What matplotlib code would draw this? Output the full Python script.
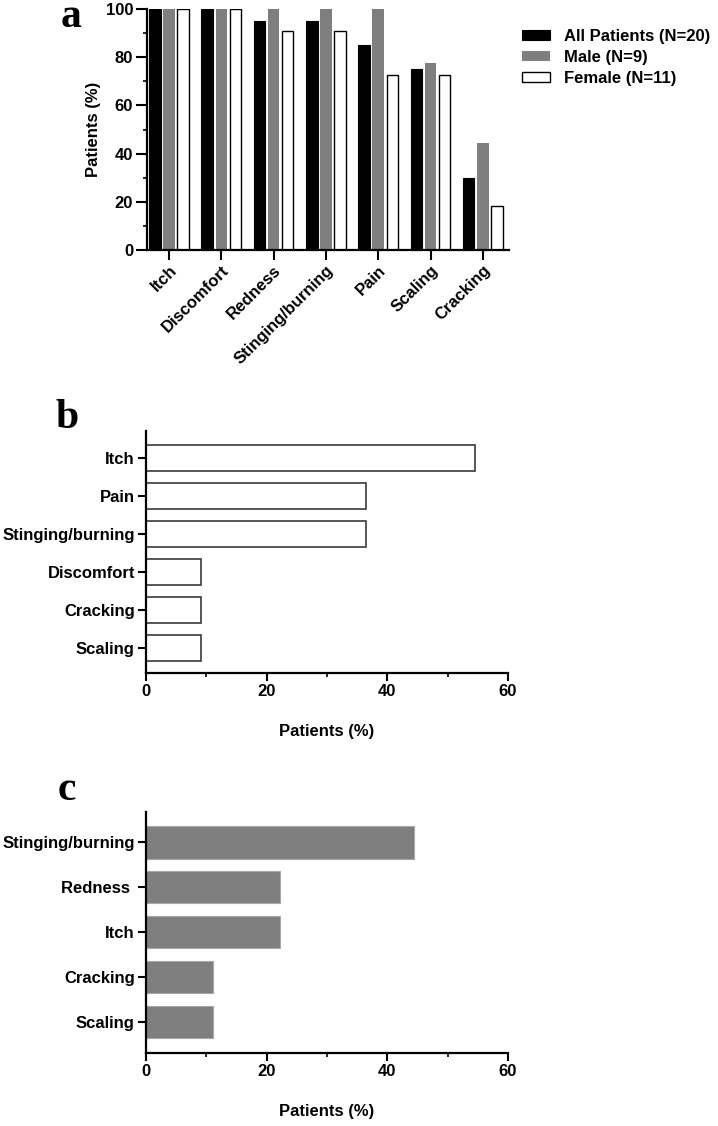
import numpy as np
import matplotlib.pyplot as plt
from matplotlib.ticker import MultipleLocator

plt.rcParams['font.family'] = ['Liberation Sans', 'DejaVu Sans']
plt.rcParams['font.weight'] = 'bold'

# --- data ---
symptoms_a = ["Itch", "Discomfort", "Redness", "Stinging/burning", "Pain", "Scaling", "Cracking"]
all_pts = [100, 100, 95, 95, 85, 75, 30]
male = [100, 100, 100, 100, 100, 77.8, 44.4]
female = [100, 100, 90.9, 90.9, 72.7, 72.7, 18.2]
series_labels = ["All Patients (N=20)", "Male (N=9)", "Female (N=11)"]

symptoms_b = ["Itch", "Pain", "Stinging/burning", "Discomfort", "Cracking", "Scaling"]
values_b = [54.5, 36.4, 36.4, 9.1, 9.1, 9.1]

symptoms_c = ["Stinging/burning", "Redness ", "Itch", "Cracking", "Scaling"]
values_c = [44.4, 22.2, 22.2, 11.1, 11.1]

W, H = 718, 1126
fig = plt.figure(figsize=(W / 100, H / 100), dpi=100)


def box(left, top, right, bottom):
    return [left / W, 1 - bottom / H, (right - left) / W, (bottom - top) / H]


def style(ax):
    for s in ["top", "right"]:
        ax.spines[s].set_visible(False)
    for s in ["left", "bottom"]:
        ax.spines[s].set_linewidth(1.6)
    ax.tick_params(which="major", length=6, width=1.5, pad=2, labelsize=12)
    ax.tick_params(which="minor", length=3, width=1.2)


# --- panel a ---
ax_a = fig.add_axes(box(147, 9, 509, 250))
x = np.arange(len(symptoms_a))
off, bw = 0.27, 0.22
ax_a.bar(x - off, all_pts, bw, color="black", edgecolor="black", lw=0.8, label=series_labels[0])
ax_a.bar(x, male, bw, color="#7f7f7f", lw=0, label=series_labels[1])
ax_a.bar(x + off, female, bw, color="white", edgecolor="black", lw=1.0, label=series_labels[2])
ax_a.set_xlim(-0.42, 6.5)
ax_a.set_ylim(0, 100)
ax_a.yaxis.set_major_locator(MultipleLocator(20))
ax_a.yaxis.set_minor_locator(MultipleLocator(10))
ax_a.set_xticks(x)
ax_a.set_xticklabels(symptoms_a, rotation=45, ha="right", va="top", rotation_mode="anchor")
ax_a.set_ylabel("Patients (%)", fontsize=12, fontweight="bold", labelpad=3)
style(ax_a)
ax_a.tick_params(axis="y", length=8)
ax_a.tick_params(axis="x", length=7)
ax_a.legend(loc="upper left", bbox_to_anchor=(522 / W, 1 - 29 / H), bbox_transform=fig.transFigure,
            frameon=False, fontsize=12, handlelength=1.7, handleheight=0.6, handletextpad=0.8,
            labelspacing=0.36, borderpad=0, borderaxespad=0)

# --- panel b ---
ax_b = fig.add_axes(box(146, 431, 508, 673))
yb = np.arange(len(symptoms_b))
ax_b.barh(yb, values_b, 0.68, color="white", edgecolor="#3a3a3a", lw=1.2)
ax_b.set_ylim(5.66, -0.7)
ax_b.set_yticks(yb)
ax_b.set_yticklabels(symptoms_b)

# --- panel c ---
ax_c = fig.add_axes(box(146, 812, 508, 1053))
yc = np.arange(len(symptoms_c))
ax_c.barh(yc, values_c, 0.73, color="#7f7f7f", edgecolor="#a8a8a8", lw=0.8)
ax_c.set_ylim(4.69, -0.67)
ax_c.set_yticks(yc)
ax_c.set_yticklabels(symptoms_c)

for ax in (ax_b, ax_c):
    ax.set_xlim(0, 60)
    ax.xaxis.set_major_locator(MultipleLocator(20))
    ax.xaxis.set_minor_locator(MultipleLocator(10))
    ax.set_xlabel("Patients (%)", fontsize=12, fontweight="bold", labelpad=18)
    style(ax)

# panel letters
for lbl, (px, py) in zip("abc", [(71, 17), (67, 418), (67, 790)]):
    fig.text(px / W, 1 - py / H, lbl, fontsize=30, fontweight="bold",
             family=["Liberation Serif", "DejaVu Serif"], ha="center", va="center")

fig.savefig("out.png", dpi=100)
